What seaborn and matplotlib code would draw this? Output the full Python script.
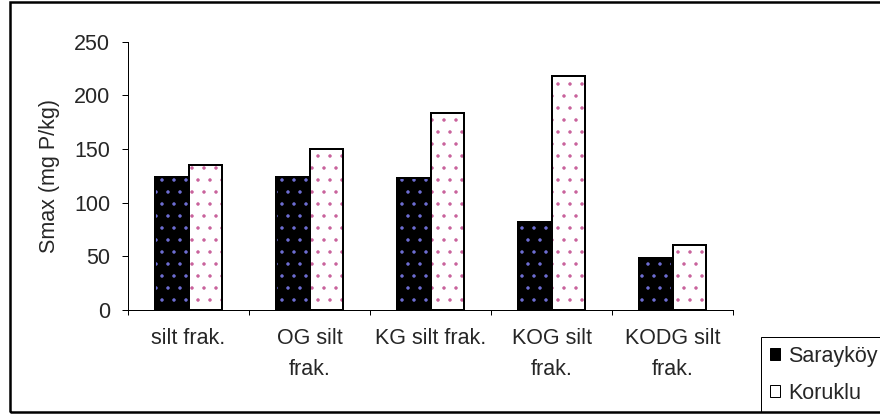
import matplotlib
matplotlib.use("Agg")
import matplotlib.pyplot as plt
from matplotlib.patches import Patch, Rectangle
import seaborn as sns
import pandas as pd
import numpy as np

categories = ["silt frak.", "OG silt\nfrak.", "KG silt frak.", "KOG silt\nfrak.", "KODG silt\nfrak."]
saraykoy = [124, 124, 123, 82, 48]
koruklu = [135, 150, 184, 218, 61]
series = ["Sarayköy", "Koruklu"]
yticks = [0, 50, 100, 150, 200, 250]

df = pd.DataFrame({
    "cat": categories * 2,
    "val": saraykoy + koruklu,
    "series": [series[0]] * len(categories) + [series[1]] * len(categories),
})

sns.set_theme(style="white")
plt.rcParams["font.family"] = ["Liberation Sans", "DejaVu Sans"]
plt.rcParams["hatch.linewidth"] = 1.0

FS = 21.5
DPI = 72
fig = plt.figure(figsize=(880 / DPI, 416 / DPI), dpi=DPI)
fig.patch.set_facecolor("white")
ax = fig.add_axes([128 / 880, 1 - 310 / 416, (733 - 128) / 880, (310 - 41.7) / 416])

fills = ["#000000", "#ffffff"]
dots = ["#7070d8", "#c8609a"]

sns.barplot(data=df, x="cat", y="val", hue="series", order=categories, hue_order=series,
            palette=fills, width=0.56, ax=ax, legend=False, hatch=".", linewidth=0,
            saturation=1)
for cont, dc in zip(ax.containers, dots):
    for p in cont:
        p.set_edgecolor(dc)
        p.set_linewidth(0)
        p.set_hatch(".")
n_first = len(ax.containers)
sns.barplot(data=df, x="cat", y="val", hue="series", order=categories, hue_order=series,
            palette=fills, width=0.56, ax=ax, legend=False, saturation=1)
for cont in ax.containers[n_first:]:
    for p in cont:
        p.set_facecolor("none")
        p.set_edgecolor("black")
        p.set_linewidth(2)

ax.set_xlim(-0.5, len(categories) - 0.5)
ax.set_ylim(0, 250)
ax.set_yticks(yticks)
ax.set_xlabel("")
ax.set_ylabel("Smax (mg P/kg)", fontsize=FS, labelpad=14)
for s in ["top", "right"]:
    ax.spines[s].set_visible(False)
for s in ["left", "bottom"]:
    ax.spines[s].set_color("black")
    ax.spines[s].set_linewidth(1)
ax.set_xticks(np.arange(len(categories) + 1) - 0.5, minor=True)
ax.tick_params(axis="x", which="major", length=0, pad=18, labelsize=FS)
for t in ax.get_xticklabels():
    t.set_linespacing(1.6)
ax.tick_params(axis="x", which="minor", length=5, width=1, color="black", direction="out", bottom=True)
ax.tick_params(axis="y", which="major", length=6, width=1, color="black", direction="out", left=True,
               pad=12, labelsize=FS)

handles = [Patch(facecolor=fills[0], edgecolor="black", linewidth=1),
           Patch(facecolor=fills[1], edgecolor="black", linewidth=1)]
leg = fig.legend(handles, series, loc="upper left", bbox_to_anchor=(761 / 880, 1 - 337 / 416),
                 bbox_transform=fig.transFigure, fontsize=FS, frameon=True, fancybox=False,
                 edgecolor="black", framealpha=1, handlelength=0.5, handleheight=0.5,
                 handletextpad=0.35, labelspacing=0.75, borderpad=0.4, borderaxespad=0)
leg.get_frame().set_linewidth(1)
leg.set_zorder(5)

frame = Rectangle((9.5 / 880, 1 - 412 / 416), 1.0, (412 - 1.5) / 416, transform=fig.transFigure,
                  fill=False, edgecolor="black", linewidth=2.5, zorder=10)
fig.patches.append(frame)

fig.savefig("out.png", dpi=DPI, facecolor="white")
